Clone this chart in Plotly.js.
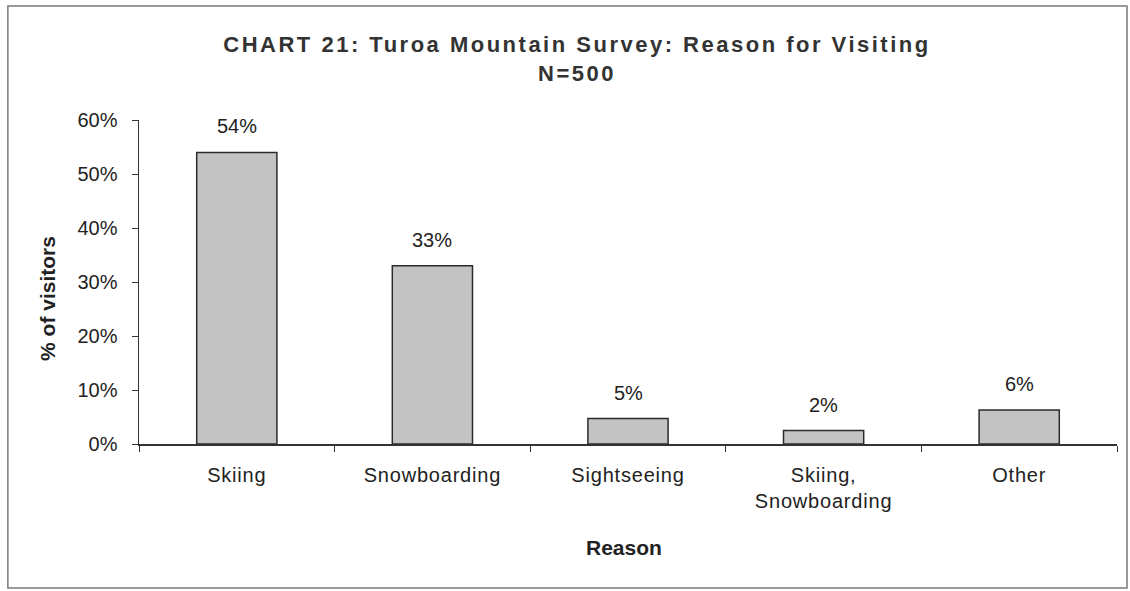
<!DOCTYPE html>
<html>
<head>
<meta charset="utf-8">
<script src="https://cdn.plot.ly/plotly-3.0.1.min.js"></script>
<style>
  html, body { margin: 0; padding: 0; background: #ffffff; }
  #chart { width: 1130px; height: 591px; }
  .gtitle { letter-spacing: 2.5px; }
  .xtick text { letter-spacing: 0.8px; }
</style>
</head>
<body>
<div id="chart"></div>
<script>
// Data
const categories = ["Skiing", "Snowboarding", "Sightseeing", "Skiing,<br>Snowboarding", "Other"];
const percentValues = [54, 33, 4.7, 2.5, 6.3];
const valueLabels = ["54%", "33%", "5%", "2%", "6%"];
const yTickValues = [0, 10, 20, 30, 40, 50, 60];
const yTickLabels = ["0%", "10%", "20%", "30%", "40%", "50%", "60%"];

const FONT = "Liberation Sans, Arial, Helvetica, sans-serif";

const trace = {
  type: "bar",
  x: categories,
  y: percentValues,
  marker: { color: "#c3c3c3", line: { color: "#2b2b2b", width: 1.5 } },
  hoverinfo: "x+y",
  showlegend: false
};

const labelAnnotations = categories.map((c, i) => ({
  xref: "x", yref: "y",
  x: c, y: percentValues[i],
  text: valueLabels[i],
  showarrow: false,
  xanchor: "center", yanchor: "bottom",
  yshift: 13,
  font: { family: FONT, size: 20, color: "#222222" }
}));

const layout = {
  width: 1130,
  height: 591,
  paper_bgcolor: "#ffffff",
  plot_bgcolor: "#ffffff",
  margin: { l: 139, r: 13, t: 120, b: 147 },
  font: { family: FONT, size: 20, color: "#222222" },
  title: {
    text: "<b>CHART 21: Turoa Mountain Survey: Reason for Visiting<br>N=500</b>",
    font: { family: FONT, size: 22, color: "#333333" },
    x: 577 / 1130, xref: "container", xanchor: "center",
    y: 1 - 52 / 591, yref: "container", yanchor: "middle"
  },
  bargap: 0.59,
  xaxis: {
    type: "category",
    showline: true, linecolor: "#333333", linewidth: 1.5,
    ticks: "outside", ticklen: 6, tickcolor: "#333333", tickwidth: 1,
    tickson: "boundaries",
    ticklabelstandoff: 12,
    showgrid: false, zeroline: false,
    tickfont: { family: FONT, size: 20, color: "#222222" },
    fixedrange: true
  },
  yaxis: {
    range: [0, 60],
    tickvals: yTickValues,
    ticktext: yTickLabels,
    showline: true, linecolor: "#333333", linewidth: 1.5,
    ticks: "outside", ticklen: 6, tickcolor: "#333333", tickwidth: 1,
    ticklabelstandoff: 10,
    showgrid: false, zeroline: false,
    tickfont: { family: FONT, size: 20, color: "#222222" },
    fixedrange: true
  },
  annotations: labelAnnotations.concat([
    {
      xref: "paper", yref: "paper",
      x: (47 - 139) / 977, y: (444 - 298) / 324,
      text: "<b>% of visitors</b>", textangle: -90,
      showarrow: false, xanchor: "center", yanchor: "middle",
      font: { family: FONT, size: 21, color: "#222222" }
    },
    {
      xref: "paper", yref: "paper",
      x: (624 - 139) / 977, y: (444 - 547) / 324,
      text: "<b>Reason</b>",
      showarrow: false, xanchor: "center", yanchor: "middle",
      font: { family: FONT, size: 21, color: "#222222" }
    }
  ]),
  shapes: [
    {
      type: "rect", xref: "paper", yref: "paper",
      x0: (8 - 139) / 977, x1: (1126 - 139) / 977,
      y0: (444 - 588) / 324, y1: (444 - 6) / 324,
      line: { color: "#7a7a7a", width: 1.5 },
      fillcolor: "rgba(0,0,0,0)"
    }
  ]
};

Plotly.newPlot("chart", [trace], layout, { displayModeBar: false, staticPlot: true });
</script>
</body>
</html>
